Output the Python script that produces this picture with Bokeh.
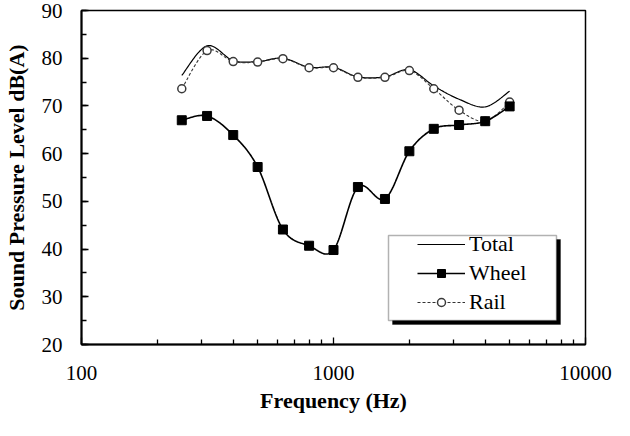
import numpy as np
from bokeh.plotting import figure
from bokeh.models import (Range1d, FixedTicker, PrintfTickFormatter, Legend,
                          LegendItem, BoxAnnotation, SingleIntervalTicker)
from bokeh.embed import file_html
from bokeh.resources import INLINE

# ---- data ----
freq = [250, 315, 400, 500, 630, 800, 1000, 1250, 1600, 2000, 2500, 3150, 4000, 5000]
total = [76.4, 82.6, 79.5, 79.3, 80.0, 78.1, 78.1, 76.1, 76.1, 77.6, 74.2, 71.4, 69.8, 73.1]
wheel = [67.0, 67.9, 63.9, 57.2, 44.1, 40.7, 39.8, 53.0, 50.5, 60.5, 65.2, 66.0, 66.8, 69.9]
rail = [73.6, 81.6, 79.3, 79.2, 79.9, 78.0, 78.0, 76.0, 76.0, 77.4, 73.6, 69.1, 66.8, 70.8]
x_major = [100, 1000, 10000]
x_minor = [200, 300, 400, 500, 600, 700, 800, 900,
           2000, 3000, 4000, 5000, 6000, 7000, 8000, 9000]
X_MIN, X_MAX = 100, 10000
Y_MIN, Y_MAX = 20, 90

FONT = "Liberation Serif"
FRAME_W, FRAME_H = 504, 334


def smooth(xs, ys, n=24):
    """Excel-like smoothed line: Catmull-Rom Bezier in (log10 x, y) space."""
    lx = np.log10(np.asarray(xs, float))
    y = np.asarray(ys, float)
    P = np.column_stack([lx, y])
    N = len(P)
    out = []
    for i in range(N - 1):
        p0 = P[i - 1] if i > 0 else P[i]
        p1, p2 = P[i], P[i + 1]
        p3 = P[i + 2] if i + 2 < N else P[i + 1]
        c1 = p1 + (p2 - p0) / 6.0
        c2 = p2 - (p3 - p1) / 6.0
        t = np.linspace(0, 1, n, endpoint=(i == N - 2))[:, None]
        seg = ((1 - t) ** 3) * p1 + 3 * ((1 - t) ** 2) * t * c1 + 3 * (1 - t) * t ** 2 * c2 + t ** 3 * p2
        out.append(seg)
    out = np.vstack(out)
    return (10 ** out[:, 0]).tolist(), out[:, 1].tolist()


p = figure(frame_width=FRAME_W, frame_height=FRAME_H,
           x_axis_type="log",
           x_range=Range1d(X_MIN, X_MAX), y_range=Range1d(Y_MIN, Y_MAX),
           output_backend="svg", toolbar_location=None,
           min_border_left=81, min_border_right=29,
           min_border_top=10, min_border_bottom=76,
           background_fill_color="white", border_fill_color="white")

p.grid.visible = False
p.outline_line_color = "black"
p.outline_line_width = 1.5

# axes
for ax in (p.xaxis[0], p.yaxis[0]):
    ax.axis_line_color = "black"
    ax.axis_line_width = 2
    ax.major_tick_in = 7
    ax.major_tick_out = 0
    ax.minor_tick_in = 5
    ax.minor_tick_out = 0
    ax.major_tick_line_color = "black"
    ax.minor_tick_line_color = "black"
    ax.major_tick_line_width = 1.3
    ax.minor_tick_line_width = 1.3
    ax.major_label_text_font = FONT
    ax.major_label_text_font_size = "21px"
    ax.major_label_text_color = "black"
    ax.axis_label_text_font = FONT
    ax.axis_label_text_font_size = "22px"
    ax.axis_label_text_font_style = "bold"
    ax.axis_label_text_color = "black"

p.xaxis.ticker = FixedTicker(ticks=x_major, minor_ticks=x_minor)
p.xaxis.formatter = PrintfTickFormatter(format="%d")
p.xaxis.major_label_standoff = 21
p.xaxis.axis_label = "Frequency (Hz)"
p.xaxis.axis_label_standoff = 5

p.yaxis.ticker = SingleIntervalTicker(interval=10, num_minor_ticks=2)
p.yaxis.major_label_standoff = 19
p.yaxis.axis_label = "Sound Pressure Level dB(A)"
p.yaxis.axis_label_standoff = 10

# series
tx, ty = smooth(freq, total)
wx, wy = smooth(freq, wheel)
rx, ry = smooth(freq, rail)

r_total = p.line(tx, ty, line_color="black", line_width=1.2)
r_rail_l = p.line(rx, ry, line_color="#333333", line_width=1.1, line_dash="3 2")
r_rail_m = p.scatter(freq, rail, marker="circle", size=8,
                     fill_color="white", line_color="#3a3a3a", line_width=1.5)
r_wheel_l = p.line(wx, wy, line_color="black", line_width=1.6)
r_wheel_m = p.scatter(freq, wheel, marker="square", size=9,
                      fill_color="black", line_color="black")


# legend box with shadow (positions given in frame pixels)
def px_to_x(px):
    return 10 ** (np.log10(X_MIN) + px / FRAME_W * (np.log10(X_MAX) - np.log10(X_MIN)))


def px_to_y(py):
    return Y_MIN + py / FRAME_H * (Y_MAX - Y_MIN)


bl, br, bb, bt = 307, 475, 24, 109   # legend box edges, px from frame bottom-left
sh = 4
shadow = BoxAnnotation(left=px_to_x(bl + sh), right=px_to_x(br + sh),
                       bottom=px_to_y(bb - sh), top=px_to_y(bt - sh),
                       fill_color="black", fill_alpha=1.0, line_color="black",
                       line_width=1)
box = BoxAnnotation(left=px_to_x(bl), right=px_to_x(br),
                    bottom=px_to_y(bb), top=px_to_y(bt),
                    fill_color="white", fill_alpha=1.0, line_color="black",
                    line_width=1.5)
p.add_layout(shadow)
p.add_layout(box)

legend = Legend(items=[
    LegendItem(label="Total", renderers=[r_total]),
    LegendItem(label="Wheel", renderers=[r_wheel_l, r_wheel_m]),
    LegendItem(label="Rail", renderers=[r_rail_l, r_rail_m]),
], location=(336, 29))
legend.padding = 0
legend.margin = 0
legend.spacing = 3
legend.glyph_width = 48
legend.glyph_height = 20
legend.label_standoff = 4
legend.label_text_font = FONT
legend.label_text_font_size = "22px"
legend.label_text_color = "black"
legend.border_line_color = None
legend.background_fill_alpha = 0
p.add_layout(legend)

open("out.html", "w").write(file_html(p, INLINE))
